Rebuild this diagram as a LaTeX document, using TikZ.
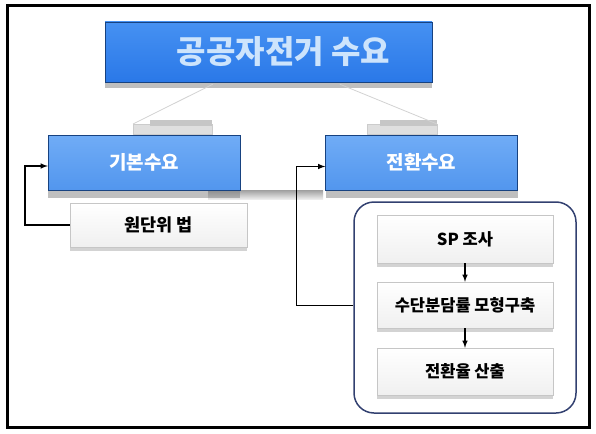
\documentclass[tikz,border=0pt]{standalone}
\usepackage{fontspec}
\newfontfamily\kor{Noto Sans CJK KR}
\usepackage{tikz}
\usetikzlibrary{arrows,shadows,calc,positioning}
\definecolor{boxblue}{RGB}{42,120,232}
\definecolor{boxmid}{RGB}{70,145,242}
\definecolor{subtop}{RGB}{112,172,246}
\definecolor{subbot}{RGB}{82,150,238}
\definecolor{titletext}{RGB}{205,228,252}
\definecolor{framenavy}{RGB}{50,64,112}
\tikzstyle{head} = [rectangle, minimum width=327pt, minimum height=60pt, top color=boxmid, bottom color=boxblue, draw=boxblue!55!black, text=titletext, font=\kor\bfseries\fontsize{32}{34}\selectfont, drop shadow={shadow xshift=0pt, shadow yshift=-6pt, fill=gray, opacity=0.5}]
\tikzstyle{sub} = [rectangle, minimum width=192pt, minimum height=55pt, top color=subtop, bottom color=subbot, draw=boxblue!55!black, text=white, font=\kor\bfseries\fontsize{19}{21}\selectfont, drop shadow={shadow xshift=0pt, shadow yshift=-8pt, fill=gray, opacity=0.5}]
\tikzstyle{plain} = [rectangle, minimum width=176pt, minimum height=46pt, top color=white, bottom color=gray!12, draw=gray!45, text=black, font=\kor\bfseries\fontsize{16.5}{18}\selectfont, drop shadow={shadow xshift=0pt, shadow yshift=-4pt, fill=gray, opacity=0.35}]

\begin{document}
\begin{tikzpicture}[x=1pt, y=-1pt]
            \useasboundingbox (0,0) rectangle (596,433);
            \draw[line width=3pt] (7,6) rectangle (589,427);

            % grey ledges
            \path [fill=gray!25, draw=gray!40] (133,124) rectangle (212,134);
            \path [fill=gray!45] (150,120) rectangle (212,126);
            \path [fill=gray!25, draw=gray!40] (367,124) rectangle (437,134);
            \path [fill=gray!45] (380,120) rectangle (437,126);
            \path [top color=gray!75, bottom color=gray!15] (208,190) rectangle (323,199);

            % boxes
            \node[head] at (268.5,52) (Demand) {\hspace*{30pt}공공자전거 수요};
            \node[sub] at (144,162.5) (BaseDemand) {기본수요};
            \node[sub] at (421.5,162.5) (ShiftDemand) {전환수요};
            \node[plain, minimum width=177pt, minimum height=44pt, font=\kor\bfseries\fontsize{17.5}{19}\selectfont] at (158.5,225) (UnitMethod) {원단위 법};

            \node[draw=framenavy, line width=1.5pt, rounded corners=20pt, minimum width=222pt, minimum height=211pt] at (465,307.5) (Shift) {};
            \node[plain, minimum height=48pt] at (465,239) (SPSurvey) {SP 조사};
            \node[plain] at (465,305) (ModeModel) {수단분담률 모형구축};
            \node[plain, minimum height=47pt] at (465,371.5) (ShiftRate) {전환율 산출};

            \path
                [gray!35, draw, thick]
                ($(Demand.south west)+(108,2)$) -- (133,124)
                ($(Demand.south west)+(235,2)$) -- (437,124);
            \path
                [black, draw, line width=1.5pt, -latex]
                (UnitMethod.west) -- ++(-45,0) |- ($(BaseDemand.west)+(0,3.5)$);
            \path
                [black, draw, line width=1.5pt, -latex]
                ($(Shift.west)+(0,-2)$) -- ++(-57,0) |- ($(ShiftDemand.west)+(0,4)$);
            \path
                [black, draw, line width=1.5pt, -latex]
                (SPSurvey) -- (ModeModel);
            \path
                [black, draw, line width=1.5pt, -latex]
                (ModeModel) -- (ShiftRate);
        \end{tikzpicture}
\end{document}
